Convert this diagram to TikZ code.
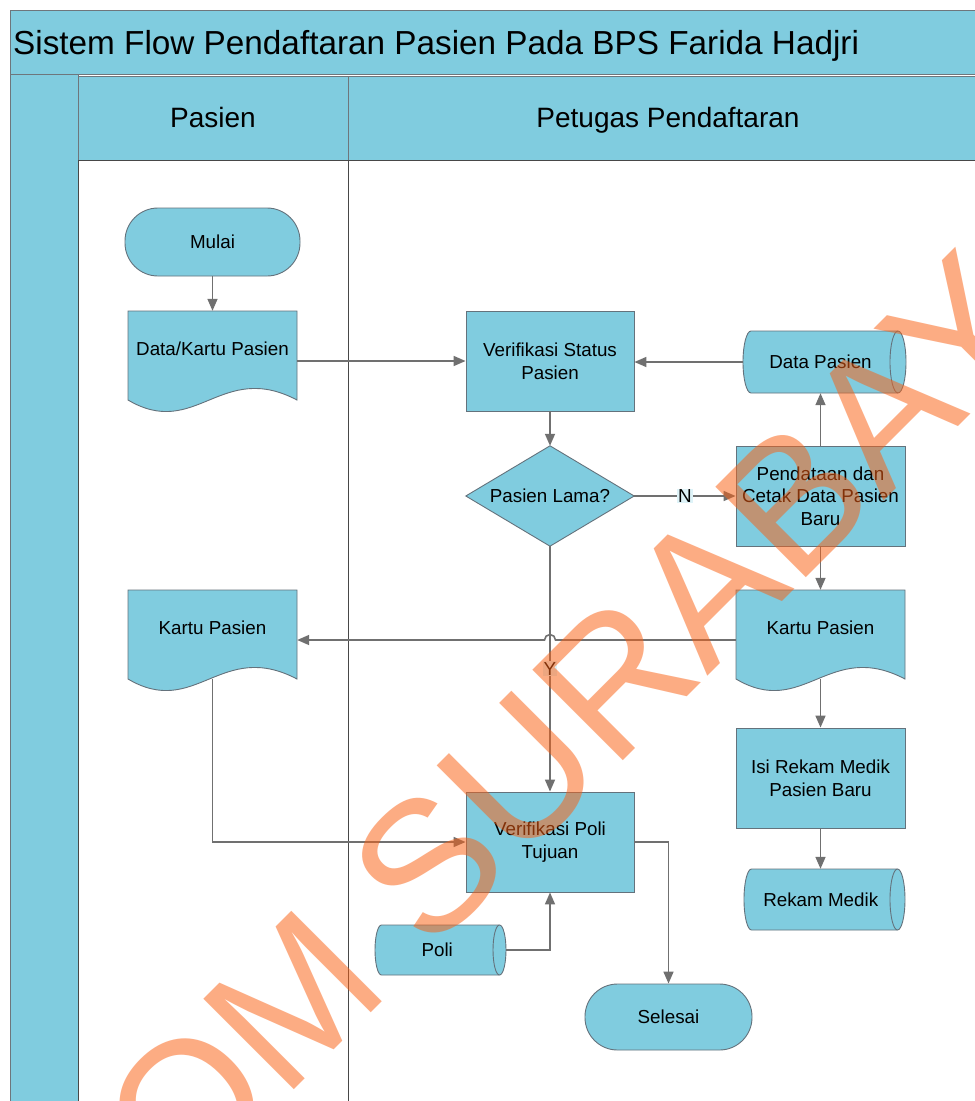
\documentclass[tikz,border=0pt]{standalone}
\usepackage{fontspec}
\setmainfont{Liberation Sans}
\usetikzlibrary{arrows.meta,calc}

\definecolor{laneblue}{RGB}{128,204,223}
\definecolor{edgegray}{RGB}{112,112,112}
\definecolor{shapeline}{RGB}{100,114,124}
\definecolor{poolline}{RGB}{110,118,124}
\definecolor{divline}{RGB}{72,72,72}
\definecolor{labelbg}{RGB}{222,243,248}
\definecolor{stampcol}{RGB}{250,96,19}

\newcommand\nodefont{\fontsize{18.8pt}{22.6pt}\selectfont}

\tikzset{
  shapebox/.style={draw=shapeline, fill=laneblue, line width=0.9pt},
  proc/.style={shapebox, rectangle, minimum width=168pt, minimum height=100pt,
    inner sep=0pt, align=center, font=\nodefont},
  term/.style={shapebox, rectangle, rounded corners=33pt, inner sep=0pt, font=\nodefont},
  holder/.style={rectangle, inner sep=0pt, draw=none},
  txt/.style={inner sep=0pt, align=center, font=\nodefont},
  flow/.style={draw=edgegray, line width=1.6pt, -{Triangle[length=12pt,width=10pt]}},
  branch/.style={fill=labelbg, inner sep=1pt, font=\nodefont, text=black},
  lanehead/.style={anchor=base, inner sep=0pt, font=\fontsize{28pt}{34pt}\selectfont},
}

% horizontal storage cylinder: name, x0, x1, ytop, ybottom, end radius, text
\newcommand\cylshape[7]{%
  \pgfmathsetmacro\cyYc{(#4+#5)/2}%
  \pgfmathsetmacro\cyRy{(#5-#4)/2}%
  \pgfmathsetmacro\cyKx{0.5523*#6}%
  \pgfmathsetmacro\cyKy{0.5523*\cyRy}%
  \draw[shapebox] (#2+#6,#4) -- (#3-#6,#4)
    .. controls (#3-#6+\cyKx,#4) and (#3,\cyYc-\cyKy) .. (#3,\cyYc)
    .. controls (#3,\cyYc+\cyKy) and (#3-#6+\cyKx,#5) .. (#3-#6,#5)
    -- (#2+#6,#5)
    .. controls (#2+#6-\cyKx,#5) and (#2,\cyYc+\cyKy) .. (#2,\cyYc)
    .. controls (#2,\cyYc-\cyKy) and (#2+#6-\cyKx,#4) .. cycle;
  \draw[draw=shapeline, line width=0.9pt] (#3-#6,#4)
    .. controls (#3-#6-\cyKx,#4) and (#3-2*#6,\cyYc-\cyKy) .. (#3-2*#6,\cyYc)
    .. controls (#3-2*#6,\cyYc+\cyKy) and (#3-#6-\cyKx,#5) .. (#3-#6,#5);
  \pgfmathsetmacro\cyW{#3-#2}%
  \pgfmathsetmacro\cyH{#5-#4}%
  \node[holder, minimum width=\cyW pt, minimum height=\cyH pt] (#1) at ({(#2+#3)/2},\cyYc) {};
  \node[txt] (#1-t) at ({(#2+#3-#6)/2},\cyYc) {#7};
}

% document with wavy lower edge: name, x0, x1, ytop, ybottom, text
\newcommand\docshape[6]{%
  \pgfmathsetmacro\dcW{#3-#2}%
  \pgfmathsetmacro\dcH{#5-#4}%
  \pgfmathsetmacro\dcC{#4+0.89*\dcH}%
  \draw[shapebox] (#2,#4) -- (#3,#4) -- (#3,\dcC)
    .. controls (#2+0.55*\dcW,\dcC-40) and (#2+0.4*\dcW,\dcC+40) .. (#2,\dcC) -- cycle;
  \node[holder, minimum width=\dcW pt, minimum height=\dcH pt] (#1) at ({(#2+#3)/2},{(#4+#5)/2}) {};
  \node[txt] (#1-t) at ({(#2+#3)/2},#4+38) {#6};
}

\begin{document}
\begin{tikzpicture}[x=1pt, y=-1pt]
\useasboundingbox (0,0) rectangle (975,1101);
\begin{scope}
\clip (0,0) rectangle (975,1101);
\fill[white] (0,0) rectangle (975,1101);

% pool, title bar and lanes
\draw[fill=laneblue, draw=poolline, line width=1pt] (10,10) rectangle (995,74);
\draw[fill=laneblue, draw=poolline, line width=1pt] (10,74) rectangle (78,1120);
\draw[fill=laneblue, draw=poolline, line width=1pt] (78,76) rectangle (348,160);
\draw[fill=laneblue, draw=poolline, line width=1pt] (348,76) rectangle (995,160);
\draw[fill=white, draw=divline, line width=1pt] (78,160) rectangle (348,1120);
\draw[fill=white, draw=divline, line width=1pt] (348,160) rectangle (995,1120);

\node[anchor=base west, inner sep=0pt, font=\fontsize{33.3pt}{40pt}\selectfont] (title) at (13,54)
  {Sistem Flow Pendaftaran Pasien Pada BPS Farida Hadjri};
\node[lanehead] (lanea) at (213,127) {Pasien};
\node[lanehead] (laneb) at (668,127) {Petugas Pendaftaran};

% steps
\node[term, minimum width=175pt, minimum height=68pt] (start) at (212.5,242) {Mulai};
\docshape{dkp}{128}{297}{311}{411}{Data/Kartu Pasien}
\node[proc] (vsp) at (550,361) {Verifikasi Status\\Pasien};
\cylshape{dp}{743}{906}{331}{393}{8}{Data Pasien}

\node[holder, minimum width=168pt, minimum height=100pt] (dia) at (550,496) {};
\draw[shapebox] (dia.north) -- (dia.east) -- (dia.south) -- (dia.west) -- cycle;
\node[txt] (dia-t) at (dia.center) {Pasien Lama?};

\node[proc, minimum width=169pt] (pdb) at (820.5,496) {Pendataan dan\\Cetak Data Pasien\\Baru};
\docshape{kpl}{128}{297}{590}{690}{Kartu Pasien}
\docshape{kpr}{736}{905}{590}{690}{Kartu Pasien}
\node[proc, minimum width=169pt] (irm) at (820.5,778) {Isi Rekam Medik\\Pasien Baru};
\cylshape{rm}{744}{905}{869}{930}{7.5}{Rekam Medik}
\node[proc] (vpt) at (550,842) {Verifikasi Poli\\Tujuan};
\cylshape{poli}{375}{506}{925}{975}{6.5}{Poli}
\node[term, minimum width=167pt, minimum height=66pt, rounded corners=32.5pt] (stop) at (668.5,1017) {Selesai};

% connector helpers
\coordinate (kpl-out) at ([yshift=11pt]kpl.south);
\coordinate (kpr-out) at ([yshift=11pt]kpr.south);
\coordinate (hop) at (dia.south |- kpr.west);

% connectors
\draw[flow] (start.south) -- (dkp.north);
\draw[flow] (dkp.east) -- (vsp.west);
\draw[flow] (dp.west) -- (dp.west -| vsp.east);
\draw[flow] (vsp.south) -- (dia.north);
\draw[flow] (dia.east) -- node[branch] {N} (pdb.west);
\draw[flow] (pdb.north) -- (pdb.north |- dp.south);
\draw[flow] (pdb.south) -- (kpr.north);
\draw[flow] (kpr.west) -- ([xshift=5.5pt]hop)
  .. controls ([xshift=5.5pt,yshift=3pt]hop) and ([xshift=3pt,yshift=5.5pt]hop) .. ([yshift=5.5pt]hop)
  .. controls ([xshift=-3pt,yshift=5.5pt]hop) and ([xshift=-5.5pt,yshift=3pt]hop) .. ([xshift=-5.5pt]hop)
  -- (kpl.east);
\draw[flow] (dia.south) -- node[branch] {Y} (vpt.north);
\draw[flow] (kpl-out) |- (vpt.west);
\draw[flow] (kpr-out) -- (irm.north);
\draw[flow] (irm.south) -- (irm.south |- rm.north);
\draw[flow] (poli.east) -| (vpt.south);
\draw[flow] (vpt.east) -| (stop.north);

% watermark stamp
\node[anchor=base, rotate=45, inner sep=0pt, text=stampcol, text opacity=0.52,
  font=\fontsize{186pt}{186pt}\selectfont] (stamp) at (508,876) {STIKOM SURABAYA};
\end{scope}
\end{tikzpicture}
\end{document}
